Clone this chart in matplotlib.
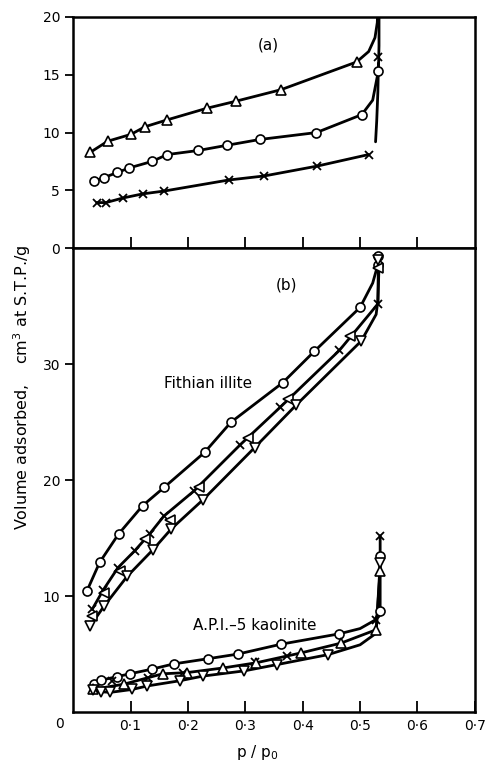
import matplotlib as mpl
mpl.use('Agg')
import matplotlib.pyplot as plt
import numpy as np

mpl.rc("font", family="DejaVu Sans", size=10)

# ---- (a) upper panel ----
a_tri_x = [0.030, 0.060, 0.101, 0.125, 0.164, 0.233, 0.283, 0.362, 0.494]
a_tri_y = [8.3, 9.25, 9.85, 10.5, 11.1, 12.1, 12.7, 13.7, 16.1]
a_tri_tail_x = [0.515, 0.526, 0.530, 0.531]
a_tri_tail_y = [17.0, 18.2, 19.5, 21.0]

a_circ_x = [0.037, 0.053, 0.077, 0.098, 0.137, 0.164, 0.218, 0.268, 0.325, 0.424, 0.503, 0.532]
a_circ_y = [5.8, 6.1, 6.55, 6.95, 7.5, 8.1, 8.45, 8.9, 9.4, 10.0, 11.55, 15.35]
a_circ_tail_x = [0.522, 0.533, 0.533]
a_circ_tail_y = [12.8, 17.5, 21.0]

a_x_x = [0.041, 0.057, 0.087, 0.121, 0.159, 0.271, 0.333, 0.425, 0.515]
a_x_y = [3.95, 3.95, 4.35, 4.7, 4.95, 5.9, 6.25, 7.1, 8.1]
a_x_top_x = [0.531]
a_x_top_y = [16.5]
a_x_tail_x = [0.527, 0.529, 0.531, 0.532]
a_x_tail_y = [9.2, 11.0, 13.5, 16.0]

# ---- (b) Fithian illite ----
fi_circ_x = [0.024, 0.046, 0.079, 0.121, 0.159, 0.229, 0.275, 0.365, 0.420, 0.500, 0.531, 0.532]
fi_circ_y = [10.45, 12.9, 15.35, 17.8, 19.4, 22.4, 25.0, 28.4, 31.1, 34.9, 38.6, 39.3]
fi_circ_knee_x = [0.522]
fi_circ_knee_y = [37.0]

fi_x_x = [0.033, 0.052, 0.078, 0.107, 0.133, 0.158, 0.210, 0.291, 0.361, 0.464, 0.531]
fi_x_y = [8.85, 10.5, 12.45, 13.9, 15.35, 16.9, 19.05, 23.05, 26.3, 31.2, 35.2]
fi_x_tail_x = [0.533]
fi_x_tail_y = [38.5]

fi_tri_x = [0.033, 0.053, 0.081, 0.125, 0.168, 0.220, 0.305, 0.374, 0.483, 0.532]
fi_tri_y = [8.3, 10.3, 12.2, 14.9, 16.6, 19.4, 23.6, 27.0, 32.4, 38.3]

fi_dtri_x = [0.030, 0.054, 0.094, 0.139, 0.171, 0.226, 0.316, 0.389, 0.502, 0.532]
fi_dtri_y = [7.45, 9.15, 11.7, 14.0, 15.8, 18.3, 22.8, 26.5, 32.0, 39.0]
fi_dtri_knee_x = [0.528, 0.531]
fi_dtri_knee_y = [34.3, 35.5]

# ---- (b) A.P.I.-5 kaolinite ----
ka_circ_x = [0.036, 0.049, 0.076, 0.099, 0.137, 0.175, 0.235, 0.287, 0.362, 0.464, 0.535, 0.535]
ka_circ_y = [2.45, 2.75, 3.05, 3.3, 3.7, 4.15, 4.6, 5.0, 5.85, 6.75, 8.75, 13.45]
ka_circ_knee_x = [0.500, 0.525, 0.535]
ka_circ_knee_y = [7.2, 7.9, 15.2]

ka_x_x = [0.067, 0.130, 0.191, 0.316, 0.373, 0.528, 0.535]
ka_x_y = [2.65, 2.95, 3.4, 4.3, 4.8, 7.95, 15.2]

ka_tri_x = [0.034, 0.088, 0.156, 0.198, 0.261, 0.319, 0.397, 0.467, 0.528, 0.535]
ka_tri_y = [1.95, 2.4, 3.3, 3.4, 3.8, 4.25, 5.1, 5.95, 7.1, 12.2]

ka_dtri_x = [0.034, 0.048, 0.065, 0.103, 0.129, 0.186, 0.226, 0.298, 0.356, 0.444, 0.535]
ka_dtri_y = [1.9, 1.75, 1.7, 1.95, 2.25, 2.7, 3.1, 3.55, 4.1, 4.95, 12.85]
ka_dtri_knee_x = [0.500, 0.528]
ka_dtri_knee_y = [5.8, 6.8]

xticks = [0.1, 0.2, 0.3, 0.4, 0.5, 0.6, 0.7]
xticklabels = ["0·1", "0·2", "0·3", "0·4", "0·5", "0·6", "0·7"]

LW = 2.0
MS = 6.5


def curve(ax, x, y, kx=(), ky=()):
    # line through markers plus extra knee points, ordered by x then y
    xs = np.concatenate([x, kx])
    ys = np.concatenate([y, ky])
    order = np.lexsort((ys, xs))
    ax.plot(xs[order], ys[order], color="black", lw=LW, zorder=2, solid_capstyle="round")


def marks(ax, x, y, m):
    if m == "x":
        ax.plot(x, y, ls="none", marker="x", ms=MS - 1, mew=1.3, color="black", zorder=3)
    else:
        ax.plot(x, y, ls="none", marker=m, ms=MS, mew=1.2, mfc="white", mec="black", zorder=3)


fig = plt.figure(figsize=(4.88, 7.64), dpi=100)
L, W = 0.150, 0.823
ax_a = fig.add_axes([L, 0.675, W, 0.303])
ax_b = fig.add_axes([L, 0.068, W, 0.607])

# panel (a)
curve(ax_a, a_tri_x, a_tri_y, a_tri_tail_x, a_tri_tail_y)
curve(ax_a, a_circ_x, a_circ_y, a_circ_tail_x, a_circ_tail_y)
curve(ax_a, a_x_x, a_x_y)
curve(ax_a, a_x_tail_x, a_x_tail_y)
marks(ax_a, a_tri_x, a_tri_y, "^")
marks(ax_a, a_circ_x, a_circ_y, "o")
marks(ax_a, a_x_x, a_x_y, "x")
marks(ax_a, a_x_top_x, a_x_top_y, "x")
ax_a.text(0.34, 17.6, "(a)", ha="center", va="center", fontsize=11)

# panel (b)
curve(ax_b, fi_circ_x, fi_circ_y, fi_circ_knee_x, fi_circ_knee_y)
curve(ax_b, fi_x_x, fi_x_y, fi_x_tail_x, fi_x_tail_y)
curve(ax_b, fi_dtri_x, fi_dtri_y, fi_dtri_knee_x, fi_dtri_knee_y)
marks(ax_b, fi_circ_x, fi_circ_y, "o")
marks(ax_b, fi_x_x, fi_x_y, "x")
marks(ax_b, fi_tri_x, fi_tri_y, "<")
marks(ax_b, fi_dtri_x, fi_dtri_y, "v")

curve(ax_b, ka_circ_x, ka_circ_y, ka_circ_knee_x, ka_circ_knee_y)
curve(ax_b, ka_tri_x, ka_tri_y)
curve(ax_b, ka_dtri_x, ka_dtri_y, ka_dtri_knee_x, ka_dtri_knee_y)
marks(ax_b, ka_circ_x, ka_circ_y, "o")
marks(ax_b, ka_x_x, ka_x_y, "x")
marks(ax_b, ka_tri_x, ka_tri_y, "^")
marks(ax_b, ka_dtri_x, ka_dtri_y, "v")

ax_b.text(0.371, 36.8, "(b)", ha="center", va="center", fontsize=11)
ax_b.text(0.235, 28.3, "Fithian illite", ha="center", va="center", fontsize=11)
ax_b.text(0.316, 7.5, "A.P.I.–5 kaolinite", ha="center", va="center", fontsize=11)

for ax in (ax_a, ax_b):
    ax.set_xlim(0, 0.7)
    ax.set_xticks(xticks[:-1])
    ax.tick_params(axis="x", direction="in", length=8, width=1.3, top=False)
    ax.tick_params(axis="y", direction="out", length=6, width=1.3, labelsize=10)
    for s in ax.spines.values():
        s.set_linewidth(1.8)

ax_a.set_ylim(0, 20)
ax_a.set_yticks([0, 5, 10, 15, 20])
ax_a.set_yticklabels(["0", "5", "10", "15", "20"])
ax_a.set_xticklabels([])

ax_b.set_ylim(0, 40)
ax_b.set_yticks([10, 20, 30])
ax_b.set_xticks(xticks)
ax_b.set_xticklabels(xticklabels)
ax_b.tick_params(axis="x", pad=5, labelsize=10)
ax_b.text(-0.024, -0.45, "0", ha="center", va="top", fontsize=10)

fig.text(0.045, 0.493, "Volume adsorbed,    cm$^3$ at S.T.P./g", rotation=90,
         ha="center", va="center", fontsize=11.5)
fig.text(0.528, 0.003, "p / p$_0$", ha="center", va="bottom", fontsize=11)

fig.savefig("out.png", dpi=100)
